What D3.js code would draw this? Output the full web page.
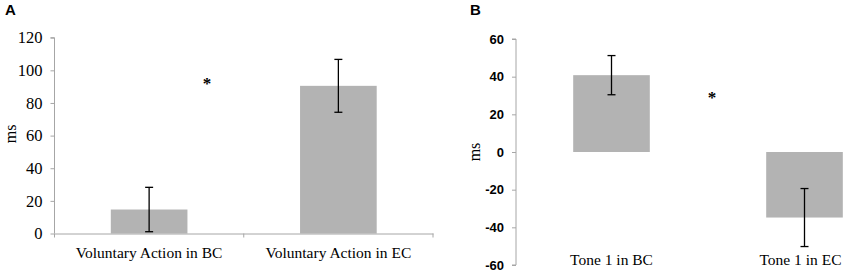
<!DOCTYPE html>
<html>
<head>
<meta charset="utf-8">
<script src="https://cdn.jsdelivr.net/npm/d3@7"></script>
<style>
  body { margin: 0; background: #fff; }
  svg { display: block; }
</style>
</head>
<body>
<div id="chart"></div>
<script>
// panel A
const catsA = ["Voluntary Action in BC", "Voluntary Action in EC"];
const meansA = [14.7, 90.5];
const errA = [13.6, 16.2];
const ticksA = [0, 20, 40, 60, 80, 100, 120];

// panel B
const catsB = ["Tone 1 in BC", "Tone 1 in EC"];
const meansB = [40.8, -34.8];
const errB = [10.4, 15.4];
const ticksB = [-60, -40, -20, 0, 20, 40, 60];

const width = 850, height = 274;
const barColor = "#b3b3b3";
const axisColor = "#a6a6a6";
const serif = "'Liberation Serif', 'Times New Roman', serif";
const sans = "'Liberation Sans', Arial, sans-serif";

const svg = d3.select("#chart").append("svg")
  .attr("width", width)
  .attr("height", height);

function errorBars(g, x, y, cats, means, errs) {
  cats.forEach((c, i) => {
    const cx = x(c) + x.bandwidth() / 2;
    const hi = y(means[i] + errs[i]);
    const lo = y(means[i] - errs[i]);
    g.append("line").attr("x1", cx).attr("x2", cx).attr("y1", hi).attr("y2", lo)
      .attr("stroke", "#000").attr("stroke-width", 1.3);
    [hi, lo].forEach(v => {
      g.append("line").attr("x1", cx - 4).attr("x2", cx + 4).attr("y1", v).attr("y2", v)
        .attr("stroke", "#000").attr("stroke-width", 1.3);
    });
  });
}

// ---------- Panel A ----------
const gA = svg.append("g");
const xA = d3.scaleBand().domain(catsA).range([54.5, 433]);
const yA = d3.scaleLinear().domain([0, 120]).range([233.5, 37.7]);
const barW = xA.bandwidth() * 0.405;

gA.append("text").attr("x", 5).attr("y", 15)
  .attr("font-family", sans).attr("font-weight", "bold").attr("font-size", 15).text("A");

const axA = gA.append("g").attr("transform", "translate(54.5,0)")
  .call(d3.axisLeft(yA).tickValues(ticksA).tickFormat(d => String(d)).tickSize(4).tickPadding(8));
axA.select(".domain").attr("stroke", axisColor).attr("d", `M-4,${yA(120)}H0V${yA(0)}`);
axA.selectAll(".tick line").attr("stroke", axisColor);
axA.selectAll(".tick text").attr("font-family", serif).attr("font-size", 16.5).attr("fill", "#000");

gA.selectAll("rect.bar").data(catsA).enter().append("rect")
  .attr("class", "bar")
  .attr("x", d => xA(d) + (xA.bandwidth() - barW) / 2)
  .attr("width", barW)
  .attr("y", (d, i) => yA(meansA[i]))
  .attr("height", (d, i) => yA(0) - yA(meansA[i]))
  .attr("fill", barColor);

const xaxA = gA.append("g").attr("transform", `translate(0,${yA(0)})`)
  .call(d3.axisBottom(xA).tickSize(0).tickPadding(13));
xaxA.select(".domain").attr("stroke", axisColor);
xaxA.selectAll(".tick text").attr("font-family", serif).attr("font-size", 15.5).attr("fill", "#000");
// category boundary ticks
xA.range().concat([xA(catsA[1])]).forEach(v => {
  gA.append("line").attr("x1", v).attr("x2", v).attr("y1", yA(0)).attr("y2", yA(0) + 4)
    .attr("stroke", axisColor);
});

errorBars(gA, xA, yA, catsA, meansA, errA);

gA.append("text").attr("transform", `translate(16,${yA(61)}) rotate(-90)`)
  .attr("text-anchor", "middle").attr("font-family", serif).attr("font-size", 16).text("ms");

gA.append("text").attr("x", 207).attr("y", 89).attr("text-anchor", "middle")
  .attr("font-family", serif).attr("font-weight", "bold").attr("font-size", 17).text("*");

// ---------- Panel B ----------
const gB = svg.append("g");
const xB = d3.scaleBand().domain(catsB).range([515, 901]);
const yB = d3.scaleLinear().domain([-60, 60]).range([265, 39]);
const barWB = xB.bandwidth() * 0.397;

gB.append("text").attr("x", 470).attr("y", 15)
  .attr("font-family", sans).attr("font-weight", "bold").attr("font-size", 15).text("B");

const axB = gB.append("g").attr("transform", "translate(516,0)")
  .call(d3.axisLeft(yB).tickValues(ticksB).tickFormat(d => String(d)).tickSize(4).tickPadding(8));
axB.select(".domain").attr("stroke", axisColor).attr("d", `M-4,${yB(60)}H0V${yB(-60)}H-4`);
axB.selectAll(".tick line").attr("stroke", axisColor);
axB.selectAll(".tick text").attr("font-family", sans)
  .attr("font-weight", "bold").attr("font-size", 13).attr("fill", "#000");

gB.selectAll("rect.bar").data(catsB).enter().append("rect")
  .attr("class", "bar")
  .attr("x", d => xB(d) + (xB.bandwidth() - barWB) / 2)
  .attr("width", barWB)
  .attr("y", (d, i) => yB(Math.max(0, meansB[i])))
  .attr("height", (d, i) => Math.abs(yB(meansB[i]) - yB(0)))
  .attr("fill", barColor);

errorBars(gB, xB, yB, catsB, meansB, errB);

gB.selectAll("text.cat").data(catsB).enter().append("text")
  .attr("class", "cat")
  .attr("x", d => xB(d) + xB.bandwidth() / 2 - (d === catsB[1] ? 4 : 0))
  .attr("y", 264.5)
  .attr("text-anchor", "middle").attr("font-family", serif).attr("font-size", 15.5)
  .text(d => d);

gB.append("text").attr("transform", `translate(480,${yB(0)}) rotate(-90)`)
  .attr("text-anchor", "middle").attr("font-family", serif).attr("font-size", 16).text("ms");

gB.append("text").attr("x", 712).attr("y", 103).attr("text-anchor", "middle")
  .attr("font-family", serif).attr("font-weight", "bold").attr("font-size", 17).text("*");
</script>
</body>
</html>
